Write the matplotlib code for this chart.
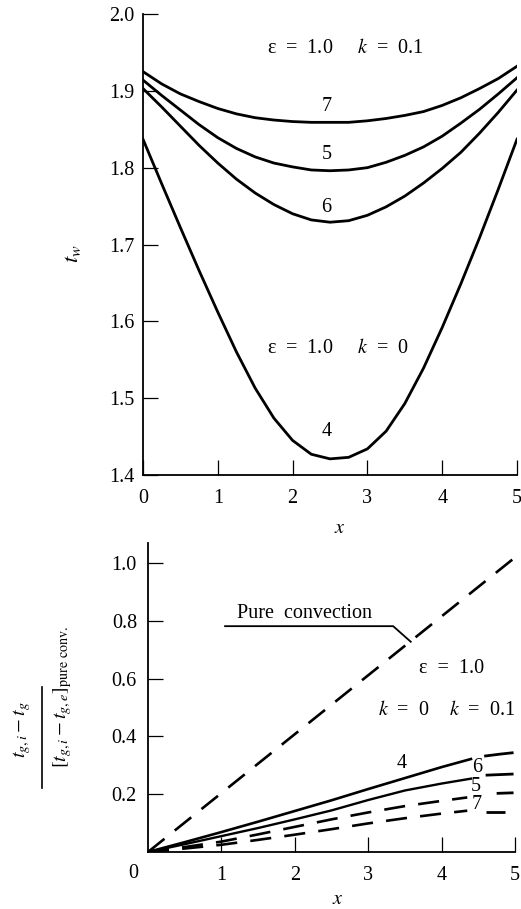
import numpy as np
import matplotlib
matplotlib.use("Agg")
import matplotlib.pyplot as plt
from matplotlib.lines import Line2D

# Font simili a quelli del libro (Times)
plt.rcParams['font.family'] = ['Liberation Serif', 'DejaVu Serif']
plt.rcParams['mathtext.fontset'] = 'stix'

# ---- Dati grafico superiore: temperatura di parete t_w ----
x_top = [0, 0.25, 0.5, 0.75, 1.0, 1.25, 1.5, 1.75, 2.0, 2.25, 2.5,
         2.75, 3.0, 3.25, 3.5, 3.75, 4.0, 4.25, 4.5, 4.75, 5.0]
tw_7 = [1.925, 1.909, 1.896, 1.886, 1.877, 1.870, 1.865, 1.862, 1.860, 1.859, 1.859,
        1.859, 1.861, 1.864, 1.868, 1.873, 1.881, 1.891, 1.903, 1.916, 1.932]
tw_5 = [1.914, 1.894, 1.875, 1.856, 1.839, 1.825, 1.814, 1.806, 1.801, 1.797, 1.796,
        1.797, 1.800, 1.807, 1.816, 1.827, 1.841, 1.858, 1.876, 1.896, 1.917]
tw_6 = [1.903, 1.879, 1.854, 1.829, 1.806, 1.785, 1.767, 1.752, 1.740, 1.732, 1.729,
        1.731, 1.738, 1.749, 1.763, 1.780, 1.799, 1.820, 1.845, 1.872, 1.901]
tw_4 = [1.837, 1.779, 1.722, 1.666, 1.612, 1.560, 1.513, 1.474, 1.445, 1.427, 1.421,
        1.423, 1.434, 1.457, 1.493, 1.539, 1.592, 1.649, 1.709, 1.772, 1.837]
top_labels = ["7", "5", "6", "4"]
top_label_y = [1.879, 1.817, 1.748, 1.457]

# ---- Dati grafico inferiore: rapporto di temperatura del gas ----
x_conv = [0, 5.0]
conv = [0, 1.02]
x_bot = [0, 0.5, 1.0, 1.5, 2.0, 2.5, 3.0, 3.5, 4.0, 4.4]
g_4 = [0, 0.034, 0.069, 0.105, 0.142, 0.179, 0.218, 0.256, 0.294, 0.322]
g_6 = [0, 0.027, 0.055, 0.083, 0.113, 0.144, 0.180, 0.213, 0.237, 0.254]
x_dash = [0, 0.5, 1.0, 1.5, 2.0, 2.5, 3.0, 3.5, 4.0, 4.35]
g_5 = [0, 0.017, 0.036, 0.061, 0.087, 0.113, 0.137, 0.159, 0.177, 0.189]
g_7 = [0, 0.012, 0.025, 0.042, 0.060, 0.079, 0.099, 0.117, 0.133, 0.143]
# tratti finali a destra delle etichette
stub_x = [[4.58, 4.8, 4.98], [4.6, 4.98], [4.75, 4.98], [4.6, 4.86]]
stub_y = [[0.332, 0.339, 0.344], [0.266, 0.270], [0.203, 0.205], [0.139, 0.139]]
bot_labels = ["4", "6", "5", "7"]
bot_label_x = [3.45, 4.48, 4.47, 4.48]
bot_label_y = [0.307, 0.293, 0.226, 0.163]

fs = 14.5
W, H = 521.0, 909.0
fig = plt.figure(figsize=(5.21, 9.09), dpi=100)

# ---------------- grafico superiore ----------------
ax1 = fig.add_axes([143 / W, 1 - 475 / H, 374 / W, 461 / H])
for serie in [tw_7, tw_5, tw_6, tw_4]:
    ax1.plot(x_top, serie, color="black", lw=2.0, solid_joinstyle="round")
ax1.set_xlim(0, 5)
ax1.set_ylim(1.4, 2.0)
ax1.set_xticks([0, 1, 2, 3, 4, 5])
ax1.set_yticks([1.4, 1.5, 1.6, 1.7, 1.8, 1.9, 2.0])
ax1.set_yticklabels(["1.4", "1.5", "1.6", "1.7", "1.8", "1.9", "2.0"])
for lab, yy in zip(top_labels, top_label_y):
    ax1.text(2.45, yy, lab, fontsize=fs, ha="center", va="center")
ax1.text(1.66, 1.955, r"ε  =  1.0     $k$  =  0.1", fontsize=fs, ha="left", va="center")
ax1.text(1.66, 1.565, r"ε  =  1.0     $k$  =  0", fontsize=fs, ha="left", va="center")
ax1.set_xlabel(r"$x$", fontsize=fs)
ax1.xaxis.set_label_coords(0.527, -0.095)
ax1.set_ylabel(r"$t_w$", fontsize=fs + 2)
ax1.yaxis.set_label_coords(-0.16, 0.48)

# ---------------- grafico inferiore ----------------
ax2 = fig.add_axes([148 / W, 1 - 852 / H, 367 / W, 309 / H])
ax2.plot(x_conv, conv, color="black", lw=1.9, dashes=(8, 5))
ax2.plot(x_bot, g_4, color="black", lw=1.9)
ax2.plot(x_bot, g_6, color="black", lw=1.7)
ax2.plot(x_dash, g_5, color="black", lw=1.9, dashes=(8, 5))
ax2.plot(x_dash, g_7, color="black", lw=1.9, dashes=(8, 5))
for sx, sy in zip(stub_x, stub_y):
    ax2.plot(sx, sy, color="black", lw=2.0, solid_capstyle="butt", clip_on=False)
for lab, xx, yy in zip(bot_labels, bot_label_x, bot_label_y):
    ax2.text(xx, yy, lab, fontsize=fs, ha="center", va="center")

# indicatore "Pure convection"
ax2.plot([1.05, 3.34, 3.58], [0.782, 0.782, 0.728], color="black", lw=1.3)
ax2.text(2.13, 0.827, "Pure  convection", fontsize=fs, ha="center", va="center")
ax2.text(4.13, 0.636, "ε  =  1.0", fontsize=fs, ha="center", va="center")
ax2.text(3.49, 0.491, r"$k$  =  0", fontsize=fs, ha="center", va="center")
ax2.text(4.56, 0.491, r"$k$  =  0.1", fontsize=fs, ha="center", va="center")

ax2.set_xlim(0, 5)
ax2.set_ylim(0, 1.07)
ax2.set_xticks([1, 2, 3, 4, 5])
ax2.set_yticks([0.2, 0.4, 0.6, 0.8, 1.0])
ax2.set_yticklabels(["0.2", "0.4", "0.6", "0.8", "1.0"])
ax2.text(-0.04, -0.068, "0", fontsize=fs, ha="center", va="center", transform=ax2.transAxes)
ax2.set_xlabel(r"$x$", fontsize=fs)
ax2.xaxis.set_label_coords(0.516, -0.122)

# etichetta asse y a frazione (testo ruotato + linea)
fig.text(22 / W, 1 - 730 / H, r"$t_{g,i} - t_g$", fontsize=fs, rotation=90,
         ha="center", va="center")
fig.text(63 / W, 1 - 697 / H, r"$[t_{g,i} - t_{g,e}]_{\mathrm{pure\ conv.}}$", fontsize=fs,
         rotation=90, ha="center", va="center")
fig.add_artist(Line2D([42 / W, 42 / W], [1 - 687 / H, 1 - 788 / H], color="black", lw=1.2))

# stile assi comune
for ax in [ax1, ax2]:
    ax.spines["top"].set_visible(False)
    ax.spines["right"].set_visible(False)
    ax.spines["left"].set_linewidth(1.3)
    ax.spines["bottom"].set_linewidth(1.3)
    ax.tick_params(direction="in", length=11, width=0.9, labelsize=fs)
    ax.tick_params(axis="x", pad=10)
ax1.tick_params(axis="y", pad=6)
ax2.tick_params(axis="y", pad=8)

fig.savefig("out.png", dpi=100)
